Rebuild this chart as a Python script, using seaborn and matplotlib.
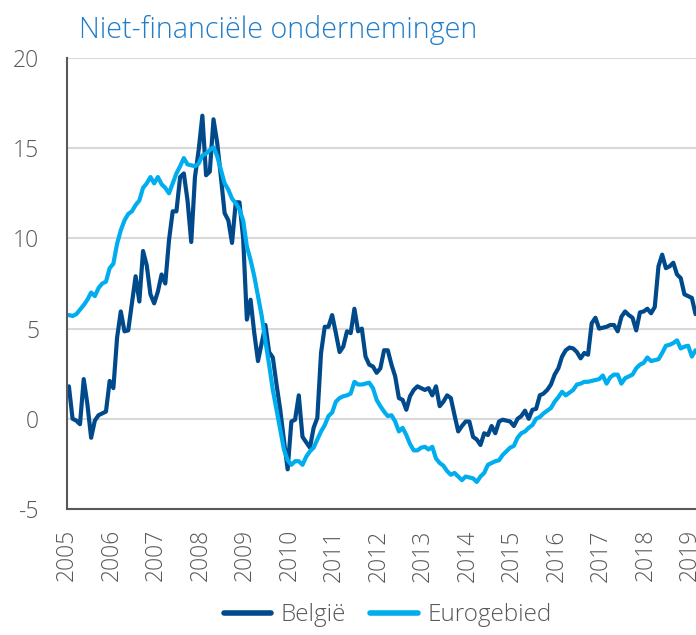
import matplotlib
matplotlib.use("Agg")
import matplotlib.pyplot as plt
import numpy as np
import pandas as pd
import seaborn as sns

# Monthly growth rates (%), Jan 2005 - Feb 2019
BELGIE = [
    1.8, 0.0, -0.1, -0.3, 2.2, 0.8, -1.05, -0.1, 0.2, 0.3, 0.4, 2.1,          # 2005
    1.7, 4.5, 5.95, 4.85, 4.9, 6.4, 7.9, 6.5, 9.3, 8.5, 6.9, 6.4,             # 2006
    7.05, 8.0, 7.5, 9.9, 11.5, 11.5, 13.4, 13.6, 12.1, 9.8, 13.4, 14.9,       # 2007
    16.8, 13.5, 13.7, 16.6, 15.3, 13.4, 11.4, 11.0, 9.75, 12.0, 12.0, 10.0,   # 2008
    5.5, 6.6, 4.75, 3.2, 4.2, 5.2, 3.7, 3.4, 1.9, 0.5, -1.2, -2.8,            # 2009
    -0.15, -0.05, 1.3, -1.0, -1.3, -1.6, -0.5, 0.05, 3.65, 5.1, 5.1, 5.75,    # 2010
    4.75, 3.7, 4.0, 4.85, 4.75, 6.1, 4.85, 5.0, 3.45, 3.0, 2.9, 2.55,         # 2011
    2.8, 3.8, 3.8, 3.0, 2.35, 1.15, 1.05, 0.5, 1.25, 1.6, 1.8, 1.7,           # 2012
    1.6, 1.7, 1.3, 1.8, 0.7, 0.95, 1.3, 1.15, 0.2, -0.7, -0.4, -0.15,         # 2013
    -0.15, -1.0, -1.15, -1.45, -0.8, -0.9, -0.4, -0.8, -0.15, -0.05, -0.1, -0.15,  # 2014
    -0.4, 0.0, 0.15, 0.45, 0.0, 0.5, 0.55, 1.3, 1.4, 1.6, 1.9, 2.45,          # 2015
    2.8, 3.45, 3.8, 3.95, 3.9, 3.7, 3.35, 3.65, 3.55, 5.3, 5.6, 5.0,          # 2016
    5.05, 5.1, 5.2, 5.2, 4.85, 5.65, 5.95, 5.75, 5.6, 4.9, 5.9, 5.95,         # 2017
    6.1, 5.85, 6.2, 8.45, 9.1, 8.35, 8.45, 8.65, 8.0, 7.8, 6.9, 6.8,          # 2018
    6.7, 5.8,                                                                 # 2019
]
EUROGEBIED = [
    5.75, 5.7, 5.8, 6.05, 6.3, 6.6, 7.0, 6.8, 7.25, 7.5, 7.6, 8.35,
    8.6, 9.7, 10.45, 11.0, 11.35, 11.5, 11.85, 12.1, 12.8, 13.05, 13.4, 13.05,
    13.4, 13.0, 12.8, 12.5, 13.05, 13.6, 14.0, 14.45, 14.1, 14.05, 14.0, 14.15,
    14.6, 14.7, 14.9, 15.05, 14.55, 13.8, 13.05, 12.7, 12.2, 11.95, 11.6, 11.0,
    9.55, 8.8, 7.9, 6.8, 5.7, 4.3, 3.0, 1.6, 0.5, -0.6, -1.7, -2.3,
    -2.55, -2.35, -2.35, -2.55, -2.1, -1.8, -1.6, -1.15, -0.7, -0.35, 0.15, 0.35,
    0.95, 1.15, 1.25, 1.3, 1.4, 2.05, 1.9, 1.9, 1.95, 2.0, 1.7, 1.05,
    0.7, 0.4, 0.15, 0.2, -0.15, -0.7, -0.5, -0.9, -1.4, -1.75, -1.75, -1.6,
    -1.55, -1.7, -1.55, -2.2, -2.45, -2.6, -2.9, -3.1, -3.0, -3.2, -3.4, -3.2,
    -3.25, -3.3, -3.5, -3.2, -3.0, -2.55, -2.45, -2.35, -2.3, -2.0, -1.8, -1.6,
    -1.5, -1.05, -0.8, -0.7, -0.5, -0.35, 0.0, 0.1, 0.3, 0.45, 0.6, 0.95,
    1.2, 1.5, 1.3, 1.45, 1.6, 1.9, 1.95, 2.05, 2.05, 2.1, 2.15, 2.2,
    2.4, 1.95, 2.3, 2.45, 2.45, 1.95, 2.25, 2.35, 2.45, 2.8, 3.0, 3.1,
    3.4, 3.2, 3.25, 3.3, 3.65, 4.05, 4.1, 4.2, 4.35, 3.9, 4.0, 4.05,
    3.45, 3.8,
]
SERIES = ["België", "Eurogebied"]
COLORS = {"België": "#004a8c", "Eurogebied": "#00aeef"}
YEARS = list(range(2005, 2020))
Y_TICKS = [-5, 0, 5, 10, 15, 20]
TITLE = "Niet-financiële ondernemingen"

GREY = "#595959"

# mid-month positions on a decimal-year axis
n = len(BELGIE)
t = 2005 + (np.arange(n) + 0.5) / 12
df = pd.DataFrame({
    "t": np.concatenate([t, t]),
    "value": BELGIE + EUROGEBIED,
    "series": [SERIES[0]] * n + [SERIES[1]] * n,
})

sns.set_style("white")
plt.rcParams["font.family"] = ["Open Sans", "DejaVu Sans"]

fig = plt.figure(figsize=(6.96, 6.35), dpi=100)
ax = fig.add_axes([0.0963, 0.1984, 0.9037, 0.7103])

sns.lineplot(data=df, x="t", y="value", hue="series", palette=COLORS,
             linewidth=3, ax=ax, legend=False, solid_joinstyle="round")

ax.set_xlim(2005, 2019.135)
ax.set_ylim(-5, 20)
ax.set_xticks(YEARS)
ax.set_xticklabels([str(y) for y in YEARS], rotation=90, fontsize=16.5,
                   color=GREY, fontweight="light")
ax.set_yticks(Y_TICKS)
ax.set_yticklabels([str(v) for v in Y_TICKS], fontsize=16.5, color=GREY,
                   fontweight="light")
ax.tick_params(axis="x", direction="in", length=8, width=1.5, color=GREY, pad=14.5)
ax.tick_params(axis="y", direction="out", length=6.5, width=1.5, color=GREY, pad=13.5)
ax.set_xlabel("")
ax.set_ylabel("")

ax.yaxis.grid(True, color="#d9d9d9", linewidth=1.5)
ax.set_axisbelow(True)
for s in ["top", "right"]:
    ax.spines[s].set_visible(False)
for s in ["left", "bottom"]:
    ax.spines[s].set_color(GREY)
    ax.spines[s].set_linewidth(1.5)
ax.spines["bottom"].set_zorder(5)

handles = [plt.Line2D([], [], color=COLORS[s], linewidth=4, solid_capstyle="round")
           for s in SERIES]
leg = fig.legend(handles, SERIES, loc="center", bbox_to_anchor=(0.557, 0.031),
                 ncol=2, frameon=False, fontsize=17.5, handlelength=1.95,
                 columnspacing=1.0, handletextpad=0.4)
for txt in leg.get_texts():
    txt.set_color(GREY)
    txt.set_fontweight("light")

fig.text(0.1135, 0.94, TITLE, fontsize=20.7, color="#1f7dc9",
         fontweight="light", va="baseline", ha="left")

fig.savefig("out.png", dpi=100)
